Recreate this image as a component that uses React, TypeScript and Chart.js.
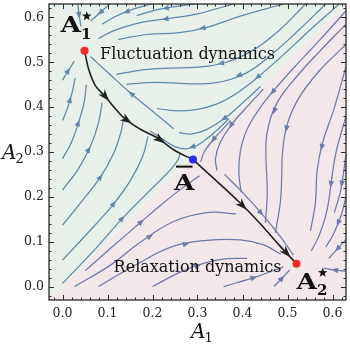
import React, { useEffect, useRef } from "react";
import { Chart, registerables } from "chart.js";

Chart.register(...registerables);

// ---------- axes ----------
const axisMin = -0.03;
const axisMax = 0.63;
const majorTicks = [0.0, 0.1, 0.2, 0.3, 0.4, 0.5, 0.6];
const minorTicks = [
  -0.02, 0.02, 0.04, 0.06, 0.08, 0.12, 0.14, 0.16, 0.18, 0.22, 0.24, 0.26, 0.28,
  0.32, 0.34, 0.36, 0.38, 0.42, 0.44, 0.46, 0.48, 0.52, 0.54, 0.56, 0.58, 0.62,
];

// ---------- fixed points ----------
const stateA1 = [0.049, 0.526];
const stateA2 = [0.52, 0.051];
const saddleA = [0.29, 0.283];

// ---------- black trajectory ----------
const fluctuationPath = [
  [0.049, 0.526], [0.058, 0.485], [0.073, 0.448], [0.095, 0.424], [0.117, 0.397],
  [0.139, 0.374], [0.176, 0.349], [0.213, 0.33], [0.247, 0.305], [0.29, 0.283],
];
const relaxationPath = [
  [0.29, 0.283], [0.345, 0.233], [0.393, 0.188], [0.436, 0.144], [0.48, 0.094], [0.52, 0.051],
];

// ---------- streamlines in the A1* basin (flow order) ----------
const fluctuationStreams = [
  [[0.034, 0.63], [0.037, 0.605], [0.041, 0.58]],
  [[0.105, 0.63], [0.085, 0.612], [0.063, 0.592]],
  [[0.2, 0.63], [0.155, 0.618], [0.115, 0.601], [0.088, 0.585]],
  [[0.294, 0.63], [0.25, 0.624], [0.209, 0.617], [0.165, 0.604]],
  [[0.38, 0.63], [0.3, 0.608], [0.246, 0.599], [0.171, 0.588], [0.113, 0.57], [0.08, 0.553]],
  [[0.491, 0.63], [0.395, 0.603], [0.321, 0.578], [0.26, 0.566], [0.187, 0.562], [0.124, 0.551]],
  [[0.54, 0.63], [0.48, 0.57], [0.42, 0.525], [0.36, 0.499], [0.3, 0.489], [0.24, 0.487], [0.187, 0.484], [0.12, 0.473]],
  [[0.585, 0.63], [0.525, 0.572], [0.47, 0.522], [0.41, 0.477], [0.345, 0.455], [0.294, 0.452], [0.209, 0.455], [0.142, 0.451]],
  [[0.615, 0.63], [0.55, 0.572], [0.49, 0.516], [0.44, 0.472], [0.4, 0.44], [0.35, 0.41], [0.3, 0.395], [0.252, 0.392], [0.21, 0.397]],
  [[0.44, 0.446], [0.404, 0.413], [0.36, 0.375], [0.32, 0.35], [0.285, 0.34], [0.259, 0.343]],
  [[0.37, 0.374], [0.33, 0.337], [0.3, 0.315], [0.275, 0.307], [0.25, 0.312], [0.225, 0.327], [0.195, 0.347]],
  [[0.247, 0.352], [0.206, 0.386], [0.153, 0.43], [0.102, 0.476], [0.062, 0.513]],
  [[0.0, 0.007], [0.074, 0.085], [0.133, 0.152], [0.19, 0.21], [0.235, 0.255], [0.255, 0.28], [0.262, 0.298]],
  [[0.0, 0.059], [0.052, 0.115], [0.111, 0.181], [0.15, 0.235], [0.178, 0.29], [0.19, 0.335]],
  [[0.0, 0.137], [0.042, 0.189], [0.085, 0.245], [0.115, 0.3], [0.13, 0.345], [0.135, 0.37]],
  [[0.0, 0.215], [0.035, 0.262], [0.063, 0.315], [0.08, 0.365], [0.088, 0.41]],
  [[0.0, 0.285], [0.02, 0.322], [0.036, 0.367], [0.048, 0.41], [0.053, 0.45]],
  [[0.0, 0.37], [0.012, 0.4], [0.022, 0.435], [0.028, 0.465]],
  [[0.0, 0.46], [0.012, 0.48], [0.026, 0.502]],
];

// ---------- streamlines in the A2* basin (flow order) ----------
const relaxationStreams = [
  [[0.63, 0.034], [0.605, 0.037], [0.58, 0.041]],
  [[0.63, 0.105], [0.612, 0.085], [0.592, 0.063]],
  [[0.63, 0.2], [0.618, 0.155], [0.601, 0.115], [0.585, 0.088]],
  [[0.63, 0.294], [0.624, 0.25], [0.617, 0.209], [0.604, 0.165]],
  [[0.63, 0.38], [0.608, 0.3], [0.599, 0.246], [0.588, 0.171], [0.57, 0.113], [0.553, 0.08]],
  [[0.63, 0.491], [0.603, 0.395], [0.578, 0.321], [0.566, 0.26], [0.562, 0.187], [0.551, 0.124]],
  [[0.63, 0.54], [0.57, 0.48], [0.525, 0.42], [0.499, 0.36], [0.489, 0.3], [0.487, 0.24], [0.484, 0.187], [0.473, 0.12]],
  [[0.63, 0.585], [0.572, 0.525], [0.522, 0.47], [0.477, 0.41], [0.455, 0.345], [0.452, 0.294], [0.455, 0.209], [0.451, 0.142]],
  [[0.63, 0.615], [0.572, 0.55], [0.516, 0.49], [0.472, 0.44], [0.44, 0.4], [0.41, 0.35], [0.395, 0.3], [0.392, 0.252], [0.397, 0.21]],
  [[0.446, 0.44], [0.413, 0.404], [0.375, 0.36], [0.35, 0.32], [0.34, 0.285], [0.343, 0.259]],
  [[0.374, 0.37], [0.337, 0.33], [0.315, 0.3], [0.307, 0.278]],
  [[0.36, 0.25], [0.4, 0.21], [0.445, 0.16], [0.485, 0.11], [0.513, 0.07]],
  [[0.05, 0.035], [0.11, 0.088], [0.17, 0.14], [0.22, 0.183], [0.26, 0.215], [0.29, 0.237], [0.305, 0.247]],
  [[0.027, 0.0], [0.11, 0.05], [0.169, 0.096], [0.247, 0.145], [0.321, 0.165], [0.385, 0.162]],
  [[0.08, 0.0], [0.169, 0.052], [0.247, 0.09], [0.321, 0.103], [0.395, 0.104], [0.447, 0.093], [0.485, 0.072]],
  [[0.2, 0.0], [0.262, 0.032], [0.315, 0.052], [0.365, 0.062], [0.41, 0.063]],
  [[0.358, 0.0], [0.432, 0.022], [0.491, 0.044]],
  [[0.47, 0.0], [0.487, 0.018], [0.505, 0.037]],
];

// ---------- styles ----------
const GREEN_BG = "#e8f1e9";
const PINK_BG = "#f2e8e9";
const GREEN_STREAM = "#5e87a9";
const PINK_STREAM = "#6b7aa9";
const PATH_COLOR = "#1e221e";
const FRAME = "#2a2a2a";
const SERIF = '"DejaVu Serif", serif';

const toXY = (pts: number[][]) => pts.map(([x, y]) => ({ x, y }));

function pointAt(pts: { x: number; y: number }[], frac: number) {
  const segs: number[] = [];
  let total = 0;
  for (let i = 1; i < pts.length; i++) {
    const d = Math.hypot(pts[i].x - pts[i - 1].x, pts[i].y - pts[i - 1].y);
    segs.push(d);
    total += d;
  }
  let target = total * frac;
  for (let i = 0; i < segs.length; i++) {
    if (target <= segs[i] || i === segs.length - 1) {
      const t = segs[i] ? Math.min(1, target / segs[i]) : 0;
      const a = pts[i];
      const b = pts[i + 1];
      return { x: a.x + (b.x - a.x) * t, y: a.y + (b.y - a.y) * t, ang: Math.atan2(b.y - a.y, b.x - a.x) };
    }
    target -= segs[i];
  }
  return null;
}

function drawHead(ctx: CanvasRenderingContext2D, x: number, y: number, ang: number, len: number, half: number, notch: number, color: string) {
  ctx.save();
  ctx.translate(x, y);
  ctx.rotate(ang);
  ctx.beginPath();
  ctx.moveTo(len / 2, 0);
  ctx.lineTo(-len / 2, half);
  ctx.lineTo(-len / 2 + notch, 0);
  ctx.lineTo(-len / 2, -half);
  ctx.closePath();
  ctx.fillStyle = color;
  ctx.fill();
  ctx.restore();
}

function drawStar(ctx: CanvasRenderingContext2D, cx: number, cy: number, R: number, r: number) {
  ctx.beginPath();
  for (let i = 0; i < 10; i++) {
    const a = -Math.PI / 2 + (i * Math.PI) / 5;
    const rad = i % 2 ? r : R;
    ctx.lineTo(cx + rad * Math.cos(a), cy + rad * Math.sin(a));
  }
  ctx.closePath();
  ctx.fill();
}

function drawStateLabel(ctx: CanvasRenderingContext2D, left: number, base: number, sub: string | null, bar: boolean) {
  ctx.fillStyle = "#111";
  ctx.textAlign = "left";
  ctx.textBaseline = "alphabetic";
  ctx.font = `bold 22px ${SERIF}`;
  const stretch = 1.2;
  const w = ctx.measureText("A").width * stretch;
  ctx.save();
  ctx.translate(left, base);
  ctx.scale(stretch, 1);
  ctx.fillText("A", 0, 0);
  ctx.restore();
  if (sub) {
    ctx.font = `bold 15px ${SERIF}`;
    const sw = ctx.measureText(sub).width;
    ctx.fillText(sub, left + w, base + 6.5);
    drawStar(ctx, left + w + sw / 2 + 0.5, base - 16, 5, 2.1);
  }
  if (bar) {
    ctx.fillRect(left + 2, base - 24, w - 4, 2);
  }
}

const regionPlugin = {
  id: "regions",
  beforeDatasetsDraw(chart: any) {
    const { ctx } = chart;
    const X = chart.scales.x;
    const Y = chart.scales.y;
    const x0 = X.getPixelForValue(axisMin), y0 = Y.getPixelForValue(axisMin);
    const x1 = X.getPixelForValue(axisMax), y1 = Y.getPixelForValue(axisMax);
    ctx.save();
    ctx.fillStyle = GREEN_BG;
    ctx.beginPath();
    ctx.moveTo(x0, y0);
    ctx.lineTo(x0, y1);
    ctx.lineTo(x1, y1);
    ctx.closePath();
    ctx.fill();
    ctx.fillStyle = PINK_BG;
    ctx.beginPath();
    ctx.moveTo(x0, y0);
    ctx.lineTo(x1, y0);
    ctx.lineTo(x1, y1);
    ctx.closePath();
    ctx.fill();
    ctx.restore();
  },
};

const arrowPlugin = {
  id: "arrows",
  afterDatasetDraw(chart: any, args: any) {
    const ds = chart.data.datasets[args.index];
    if (!ds.arrowAt) return;
    const pts = args.meta.data.map((p: any) => ({ x: p.x, y: p.y }));
    const { ctx, chartArea: a } = chart;
    ctx.save();
    ctx.beginPath();
    ctx.rect(a.left, a.top, a.right - a.left, a.bottom - a.top);
    ctx.clip();
    for (const f of ds.arrowAt) {
      const q = pointAt(pts, f);
      if (q) drawHead(ctx, q.x, q.y, q.ang, ds.arrowLen, ds.arrowHalf, ds.arrowNotch, ds.borderColor);
    }
    ctx.restore();
  },
};

const decorPlugin = {
  id: "decor",
  afterDraw(chart: any) {
    const { ctx, chartArea: a } = chart;
    const X = chart.scales.x;
    const Y = chart.scales.y;
    ctx.save();
    // ticks (inward, all four sides)
    ctx.strokeStyle = FRAME;
    ctx.lineWidth = 1;
    const tick = (v: number, len: number) => {
      const px = Math.round(X.getPixelForValue(v)) + 0.5;
      const py = Math.round(Y.getPixelForValue(v)) + 0.5;
      ctx.beginPath();
      ctx.moveTo(px, a.bottom); ctx.lineTo(px, a.bottom - len);
      ctx.moveTo(px, a.top); ctx.lineTo(px, a.top + len);
      ctx.moveTo(a.left, py); ctx.lineTo(a.left + len, py);
      ctx.moveTo(a.right, py); ctx.lineTo(a.right - len, py);
      ctx.stroke();
    };
    majorTicks.forEach((v) => tick(v, 5));
    minorTicks.forEach((v) => tick(v, 2.5));
    // frame
    ctx.lineWidth = 1.3;
    ctx.strokeRect(a.left, a.top, a.right - a.left, a.bottom - a.top);

    // axis titles
    ctx.fillStyle = "#111";
    ctx.textBaseline = "alphabetic";
    ctx.textAlign = "left";
    const title = (left: number, base: number, sub: string) => {
      ctx.font = `italic 20px ${SERIF}`;
      ctx.fillText("A", left, base);
      const w = ctx.measureText("A").width;
      ctx.font = `13px ${SERIF}`;
      ctx.fillText(sub, left + w - 1, base + 4);
    };
    title((a.left + a.right) / 2 - 6.5, a.bottom + 38, "1");
    title(2, (a.top + a.bottom) / 2 + 7, "2");

    // state labels
    const p1 = { x: X.getPixelForValue(stateA1[0]), y: Y.getPixelForValue(stateA1[1]) };
    const p2 = { x: X.getPixelForValue(stateA2[0]), y: Y.getPixelForValue(stateA2[1]) };
    const ps = { x: X.getPixelForValue(saddleA[0]), y: Y.getPixelForValue(saddleA[1]) };
    drawStateLabel(ctx, p1.x - 24, p1.y - 18.5, "1", false);
    drawStateLabel(ctx, p2.x, p2.y + 25, "2", false);
    drawStateLabel(ctx, ps.x - 19, ps.y + 30, null, true);

    // region labels
    ctx.fillStyle = "#111";
    ctx.font = `16px ${SERIF}`;
    ctx.textAlign = "left";
    ctx.fillText("Fluctuation dynamics", p1.x + 15.5, p1.y + 8.5);
    ctx.textAlign = "right";
    ctx.fillText("Relaxation dynamics", p2.x - 15, p2.y + 8.7);
    ctx.restore();
  },
};

function streamDataset(pts: number[][], color: string) {
  return {
    data: toXY(pts),
    showLine: true,
    borderColor: color,
    borderWidth: 1.25,
    pointRadius: 0,
    pointHoverRadius: 0,
    tension: 0.4,
    fill: false,
    order: 3,
    arrowAt: [0.5],
    arrowLen: 6.5,
    arrowHalf: 2.8,
    arrowNotch: 0,
  };
}

function pathDataset(pts: number[][], arrows: number[]) {
  return {
    data: toXY(pts),
    showLine: true,
    borderColor: PATH_COLOR,
    borderWidth: 1.6,
    pointRadius: 0,
    pointHoverRadius: 0,
    tension: 0.35,
    fill: false,
    order: 2,
    arrowAt: arrows,
    arrowLen: 12,
    arrowHalf: 4.2,
    arrowNotch: 3.5,
  };
}

const noPad = (s: any) => {
  s.paddingTop = 0;
  s.paddingBottom = 0;
  s.paddingLeft = 0;
  s.paddingRight = 0;
};

export default function App() {
  const ref = useRef<HTMLCanvasElement | null>(null);
  useEffect(() => {
    if (!ref.current) return;
    const datasets: any[] = [
      {
        data: toXY([stateA1, stateA2]),
        pointRadius: 4,
        pointBackgroundColor: "#f02a2a",
        pointBorderWidth: 0,
        showLine: false,
        order: 0,
      },
      {
        data: toXY([saddleA]),
        pointRadius: 4,
        pointBackgroundColor: "#2a2af0",
        pointBorderWidth: 0,
        showLine: false,
        order: 0,
      },
      pathDataset(fluctuationPath, [0.32, 0.52, 0.76]),
      pathDataset(relaxationPath, [0.46, 0.9]),
      ...fluctuationStreams.map((s) => streamDataset(s, GREEN_STREAM)),
      ...relaxationStreams.map((s) => streamDataset(s, PINK_STREAM)),
    ];
    const tickFont = { family: SERIF, size: 12.5 };
    const chart = new Chart(ref.current, {
      type: "scatter",
      data: { datasets },
      options: {
        animation: false,
        responsive: false,
        devicePixelRatio: 1,
        events: [],
        layout: { padding: { top: 1, right: 2, left: 0, bottom: 0 } },
        plugins: { legend: { display: false }, tooltip: { enabled: false } },
        scales: {
          x: {
            type: "linear",
            min: axisMin,
            max: axisMax,
            grid: { display: false, drawTicks: false },
            border: { display: false },
            ticks: { font: tickFont, color: "#222", padding: 6, maxRotation: 0, callback: (v: any) => Number(v).toFixed(1) },
            afterBuildTicks: (s: any) => { s.ticks = majorTicks.map((v) => ({ value: v })); },
            afterFit: (s: any) => { s.height = 49; noPad(s); },
          },
          y: {
            type: "linear",
            min: axisMin,
            max: axisMax,
            grid: { display: false, drawTicks: false },
            border: { display: false },
            ticks: { font: tickFont, color: "#222", padding: 5, callback: (v: any) => Number(v).toFixed(1) },
            afterBuildTicks: (s: any) => { s.ticks = majorTicks.map((v) => ({ value: v })); },
            afterFit: (s: any) => { s.width = 49; noPad(s); },
          },
        },
      } as any,
      plugins: [regionPlugin, arrowPlugin, decorPlugin],
    });
    return () => chart.destroy();
  }, []);
  return (
    <div style={{ position: "absolute", left: 0, top: 0, width: 350, height: 349 }}>
      <canvas ref={ref} width={350} height={349} style={{ display: "block" }} />
    </div>
  );
}
